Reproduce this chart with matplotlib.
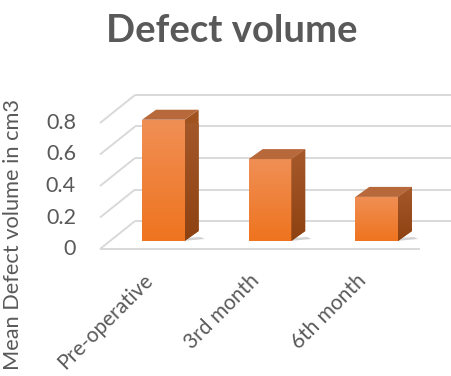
import matplotlib
matplotlib.use('Agg')
import matplotlib.pyplot as plt
import numpy as np
from matplotlib.patches import Polygon
from matplotlib.colors import LinearSegmentedColormap

categories = ['Pre-operative', '3rd month', '6th month']
values = [0.77, 0.52, 0.28]
yticks = [0, 0.2, 0.4, 0.6, 0.8]
ytick_labels = ['0', '0.2', '0.4', '0.6', '0.8']
title = 'Defect volume'
ylabel = 'Mean Defect volume in cm3'

plt.rcParams['font.family'] = ['Lato', 'DejaVu Sans']

W, H = 452, 376
fig = plt.figure(figsize=(W / 100, H / 100), dpi=100)
fig.patch.set_facecolor('white')
ax = fig.add_axes([100 / W, 127 / H, 320 / W, 126 / H])
ax.set_xlim(-0.5, 2.5)
ax.set_ylim(0, 0.8)
ax.axis('off')

# data units per pixel
px = 3.0 / 320
py = 0.8 / 126

grid_c = '#D9D9D9'
text_c = '#595959'
DX, DY = 35 * px, 28 * py          # full floor depth
BX, BY = 10 * px, 8 * py           # bar front face offset
BDX, BDY = 14 * px, 10 * py        # bar depth
bw = 0.4

# gridlines: diagonal on left wall + horizontal on back wall
for v in yticks:
    ax.plot([-0.5, -0.5 + DX], [v, v + DY], color=grid_c, lw=1.4, clip_on=False, zorder=1,
            solid_capstyle='butt')
    ax.plot([-0.5 + DX, 2.5 + DX], [v + DY, v + DY], color=grid_c, lw=1.4, clip_on=False,
            zorder=1, solid_capstyle='butt')
# front floor edge
ax.plot([-0.5, 2.5], [0, 0], color=grid_c, lw=1.4, clip_on=False, zorder=1,
        solid_capstyle='butt')

front_cmap = LinearSegmentedColormap.from_list('front', ['#EE741F', '#F08F55'])
side_cmap = LinearSegmentedColormap.from_list('side', ['#8E4212', '#A65A2C'])
grad = np.linspace(0, 1, 100).reshape(-1, 1)

x = np.arange(len(categories))
bars = ax.bar(x + BX, values, width=bw, bottom=BY, color='#ED7D31', zorder=3,
              linewidth=0)
for i, (b, v) in enumerate(zip(bars, values)):
    x0 = b.get_x()
    x1 = x0 + bw
    top = BY + v
    # shadow
    shadow = Polygon([(x1 - 2 * px, BY), (x1 + BDX + 6 * px, BY + 2 * py),
                      (x1 + BDX + 2 * px, BY + 4 * py), (x1, BY + 3 * py)],
                     closed=True, facecolor='#7F7F7F', alpha=0.35, edgecolor='none',
                     zorder=2, clip_on=False)
    ax.add_patch(shadow)
    im = ax.imshow(grad, extent=[x0, x1, BY, top], origin='lower', aspect='auto',
                   cmap=front_cmap, zorder=3.5, clip_on=True)
    im.set_clip_path(b)
    side = Polygon([(x1, BY), (x1 + BDX, BY + BDY), (x1 + BDX, top + BDY), (x1, top)],
                   closed=True, facecolor='#A0521F', edgecolor='none', zorder=3,
                   clip_on=False)
    ax.add_patch(side)
    ims = ax.imshow(grad, extent=[x1, x1 + BDX, BY, top + BDY], origin='lower',
                    aspect='auto', cmap=side_cmap, zorder=3.5)
    ims.set_clip_path(side)
    topf = Polygon([(x0, top), (x1, top), (x1 + BDX, top + BDY), (x0 + BDX, top + BDY)],
                   closed=True, facecolor='#B8693C', edgecolor='none', zorder=4,
                   clip_on=False)
    ax.add_patch(topf)

ax.set_xlim(-0.5, 2.5)
ax.set_ylim(0, 0.8)

# y tick labels
for v, lab in zip(yticks, ytick_labels):
    ax.text(-0.5 - 24 * px, v, lab, ha='right', va='center', fontsize=15.5,
            color=text_c, clip_on=False)

# category labels
for i, lab in enumerate(categories):
    ax.text(i + BX - 14 * px, -28 * py, lab, rotation=45, ha='right', va='center',
            rotation_mode='anchor', fontsize=15, color=text_c, clip_on=False)

fig.text(13 / W, 1 - 235 / H, ylabel, rotation=90, ha='center', va='center',
         fontsize=15.7, color=text_c)
fig.text(232 / W, 1 - 31 / H, title, ha='center', va='center', fontsize=27.5,
         fontweight='bold', color=text_c)

fig.savefig('out.png', dpi=100, facecolor='white')
